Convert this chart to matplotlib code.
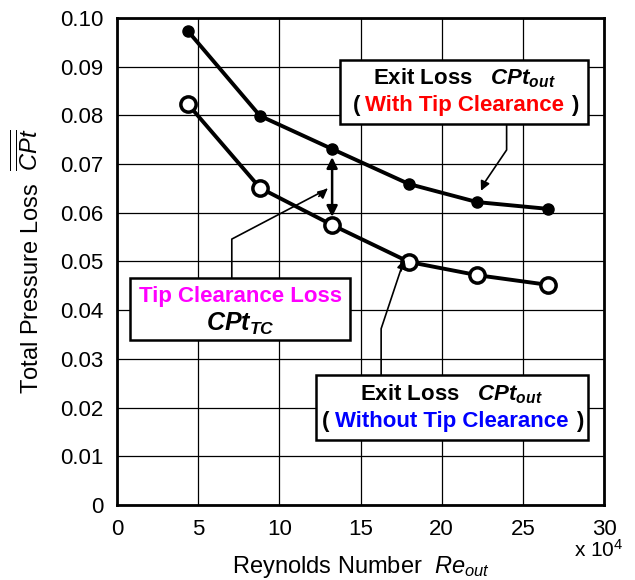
import matplotlib
matplotlib.use("Agg")
import matplotlib.pyplot as plt
from matplotlib.patches import Rectangle

plt.rcParams['font.family'] = ['Liberation Sans', 'DejaVu Sans']
plt.rcParams['mathtext.fontset'] = 'custom'
plt.rcParams['mathtext.rm'] = 'Liberation Sans'
plt.rcParams['mathtext.it'] = 'Liberation Sans:italic'
plt.rcParams['mathtext.bf'] = 'Liberation Sans:bold:italic'

# Reynolds number (x 10^4)
re_out = [4.37, 8.81, 13.25, 17.99, 22.18, 26.56]
# exit loss with tip clearance (filled)
cpt_with = [0.0973, 0.0799, 0.0731, 0.0659, 0.0622, 0.0608]
# exit loss without tip clearance (open)
cpt_without = [0.0823, 0.0651, 0.0575, 0.0499, 0.0472, 0.0452]

xticks = [0, 5, 10, 15, 20, 25, 30]
yticks = [0, 0.01, 0.02, 0.03, 0.04, 0.05, 0.06, 0.07, 0.08, 0.09, 0.10]
ytick_labels = ['0', '0.01', '0.02', '0.03', '0.04', '0.05', '0.06', '0.07', '0.08', '0.09', '0.10']

fig = plt.figure(figsize=(6.35, 5.8), dpi=100)
ax = fig.add_axes([0.1843, 0.1293, 0.7669, 0.8397])

ax.set_xlim(0, 30)
ax.set_ylim(0, 0.10)
ax.set_xticks(xticks)
ax.set_yticks(yticks)
ax.set_yticklabels(ytick_labels)
ax.tick_params(length=0, labelsize=16)
ax.tick_params(axis='y', pad=10)
ax.tick_params(axis='x', pad=10)
ax.grid(True, color='black', lw=0.9)
ax.set_axisbelow(True)
for s in ax.spines.values():
    s.set_linewidth(2)

ax.plot(re_out, cpt_with, color='black', lw=2.8, marker='o', ms=8,
        mfc='black', mec='black', zorder=3)
ax.plot(re_out, cpt_without, color='black', lw=2.8, marker='o', ms=11,
        mfc='white', mec='black', mew=2.5, zorder=3)

# double arrow between curves (tip clearance loss)
ax.annotate('', xy=(re_out[2], cpt_with[2] - 0.0011), xytext=(re_out[2], cpt_without[2] + 0.0011),
            arrowprops=dict(arrowstyle='<|-|>', color='black', lw=1.8, mutation_scale=16),
            zorder=4)

# boxes
def box(x0, y0, x1, y1):
    ax.add_patch(Rectangle((x0, y0), x1 - x0, y1 - y0, facecolor='white',
                           edgecolor='black', lw=1.8, zorder=5))

# leader lines
ax.plot([7.07, 7.07, 12.9], [0.0339, 0.0546, 0.0648], color='black', lw=1.2, zorder=4)
ax.annotate('', xy=(13.1, 0.0653), xytext=(12.3, 0.0630),
            arrowprops=dict(arrowstyle='-|>', color='black', lw=1.2, mutation_scale=14), zorder=4)

ax.plot([24.0, 24.0, 22.5], [0.0782, 0.0729, 0.0655], color='black', lw=1.2, zorder=4)
ax.annotate('', xy=(22.35, 0.0640), xytext=(22.7, 0.0665),
            arrowprops=dict(arrowstyle='-|>', color='black', lw=1.2, mutation_scale=14), zorder=4)

ax.plot([16.27, 16.27, 17.6], [0.0267, 0.0362, 0.0495], color='black', lw=1.2, zorder=4)
ax.annotate('', xy=(17.75, 0.0510), xytext=(17.45, 0.0475),
            arrowprops=dict(arrowstyle='-|>', color='black', lw=1.2, mutation_scale=14), zorder=4)

box(13.74, 0.0782, 29.02, 0.0914)
box(0.80, 0.0339, 14.36, 0.0466)
box(12.26, 0.0133, 29.02, 0.0267)

fs = 16
cpt = r'$\mathbf{CPt}_{\mathbf{out}}$'
ax.text(21.4, 0.0877, 'Exit Loss   ' + cpt, ha='center', va='center',
        fontsize=fs, fontweight='bold', zorder=6)
ax.text(14.5, 0.0821, '(', ha='left', va='center', fontsize=fs, fontweight='bold', zorder=6)
ax.text(21.4, 0.0821, 'With Tip Clearance', ha='center', va='center', fontsize=fs,
        fontweight='bold', color='#ff0000', zorder=6)
ax.text(28.45, 0.0821, ')', ha='right', va='center', fontsize=fs, fontweight='bold', zorder=6)

ax.text(7.58, 0.0429, 'Tip Clearance Loss', ha='center', va='center', fontsize=fs,
        fontweight='bold', color='#ff00ff', zorder=6)
ax.text(7.58, 0.0372, r'$\mathbf{CPt}_{\mathbf{TC}}$', ha='center', va='center', fontsize=fs + 2,
        zorder=6)

ax.text(20.6, 0.0228, 'Exit Loss   ' + cpt, ha='center', va='center',
        fontsize=fs, fontweight='bold', zorder=6)
ax.text(12.6, 0.0172, '(', ha='left', va='center', fontsize=fs, fontweight='bold', zorder=6)
ax.text(20.6, 0.0172, 'Without Tip Clearance', ha='center', va='center', fontsize=fs,
        fontweight='bold', color='#0000ff', zorder=6)
ax.text(28.7, 0.0172, ')', ha='right', va='center', fontsize=fs, fontweight='bold', zorder=6)

ax.set_xlabel(r'Reynolds Number  $\mathit{Re}_{out}$', fontsize=17, labelpad=10)
ax.set_ylabel(r'Total Pressure Loss  $\overline{\overline{\mathit{CPt}}}$', fontsize=17)
ax.yaxis.set_label_coords(-0.15, 0.5)

fig.text(0.982, 0.052, r'x 10$^4$', ha='right', va='center', fontsize=15)

fig.savefig('out.png', dpi=100)
